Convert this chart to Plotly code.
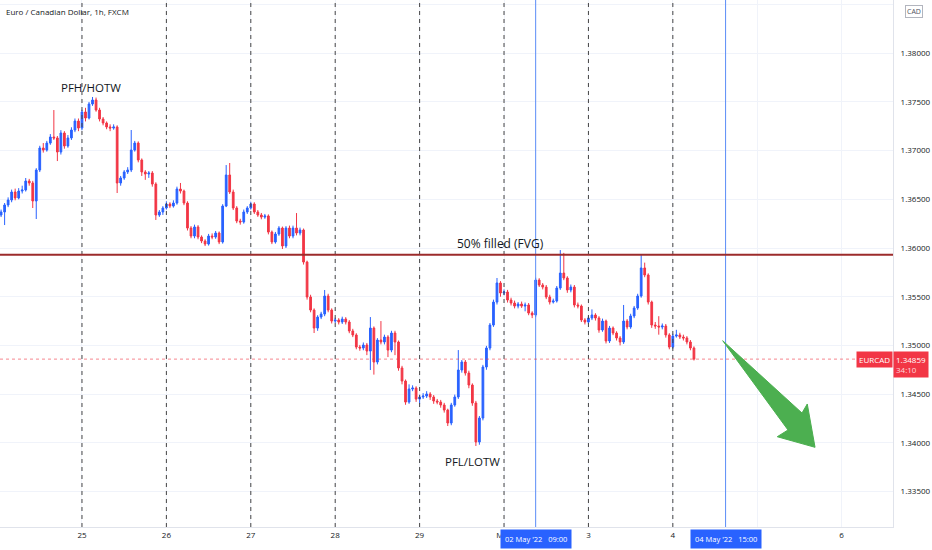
import plotly.graph_objects as go

# EURCAD 1h candles, index 0 = 24 Apr 23:00, one bar per hour (weekend removed)
opens = [
    1.36339, 1.36370, 1.36442, 1.36493, 1.36575, 1.36514, 1.36585, 1.36596, 1.36688, 1.36668, 1.36483, 1.36801,
    1.37027, 1.37006, 1.37078, 1.37140, 1.37130, 1.36986, 1.37181, 1.37048, 1.37130, 1.37212, 1.37304, 1.37232,
    1.37397, 1.37335, 1.37479, 1.37520, 1.37417, 1.37325, 1.37284, 1.37243, 1.37232, 1.37243, 1.36668, 1.36719,
    1.36781, 1.36801, 1.37006, 1.37078, 1.36904, 1.36781, 1.36760, 1.36770, 1.36657, 1.36339, 1.36370, 1.36411,
    1.36452, 1.36431, 1.36462, 1.36606, 1.36585, 1.36462, 1.36205, 1.36123, 1.36216, 1.36113, 1.36072, 1.36041,
    1.36123, 1.36113, 1.36154, 1.36062, 1.36431, 1.36750, 1.36575, 1.36411, 1.36277, 1.36267, 1.36370, 1.36411,
    1.36452, 1.36370, 1.36339, 1.36318, 1.36329, 1.36164, 1.36062, 1.36144, 1.36205, 1.36021, 1.36205, 1.36123,
    1.36205, 1.36154, 1.36185, 1.35856, 1.35497, 1.35363, 1.35178, 1.35291, 1.35322, 1.35507, 1.35363, 1.35250,
    1.35261, 1.35240, 1.35271, 1.35240, 1.35148, 1.35107, 1.34983, 1.34973, 1.35004, 1.34942, 1.35178, 1.34829,
    1.35055, 1.35035, 1.35086, 1.34952, 1.35127, 1.35035, 1.34768, 1.34634, 1.34418, 1.34552, 1.34562, 1.34449,
    1.34470, 1.34480, 1.34501, 1.34470, 1.34429, 1.34418, 1.34388, 1.34336, 1.34203, 1.34388, 1.34470, 1.34747,
    1.34829, 1.34716, 1.34593, 1.34408, 1.34008, 1.34254, 1.34778, 1.34973, 1.35209, 1.35445, 1.35641, 1.35538,
    1.35548, 1.35466, 1.35435, 1.35404, 1.35425, 1.35404, 1.35415, 1.35332, 1.35312, 1.35671, 1.35620, 1.35599,
    1.35497, 1.35445, 1.35456, 1.35589, 1.35743, 1.35692, 1.35569, 1.35599, 1.35415, 1.35404, 1.35261, 1.35240,
    1.35281, 1.35312, 1.35281, 1.35158, 1.35250, 1.35045, 1.35178, 1.35127, 1.35076, 1.35035, 1.35250, 1.35189,
    1.35302, 1.35384, 1.35507, 1.35795, 1.35723, 1.35445, 1.35209, 1.35199, 1.35189, 1.35199, 1.35107, 1.34983,
    1.35096, 1.35107, 1.35086, 1.35076, 1.35035, 1.34973,
]
highs = [
    1.36395, 1.36462, 1.36520, 1.36600, 1.36610, 1.36615, 1.36640, 1.36719, 1.36710, 1.36690, 1.36820, 1.37050,
    1.37078, 1.37100, 1.37170, 1.37417, 1.37150, 1.37210, 1.37200, 1.37160, 1.37240, 1.37330, 1.37330, 1.37420,
    1.37440, 1.37500, 1.37551, 1.37545, 1.37440, 1.37345, 1.37300, 1.37270, 1.37270, 1.37260, 1.36740, 1.36800,
    1.36830, 1.37212, 1.37100, 1.37095, 1.36920, 1.36800, 1.36790, 1.36790, 1.36675, 1.36390, 1.36430, 1.36480,
    1.36470, 1.36490, 1.36630, 1.36668, 1.36600, 1.36480, 1.36225, 1.36240, 1.36235, 1.36130, 1.36090, 1.36145,
    1.36150, 1.36175, 1.36170, 1.36450, 1.36852, 1.36873, 1.36600, 1.36430, 1.36300, 1.36395, 1.36430, 1.36475,
    1.36470, 1.36390, 1.36360, 1.36350, 1.36345, 1.36180, 1.36165, 1.36225, 1.36220, 1.36225, 1.36230, 1.36230,
    1.36359, 1.36210, 1.36200, 1.35870, 1.35520, 1.35380, 1.35310, 1.35345, 1.35569, 1.35530, 1.35380, 1.35285,
    1.35280, 1.35295, 1.35290, 1.35260, 1.35170, 1.35125, 1.35005, 1.35030, 1.35025, 1.35291, 1.35195, 1.35075,
    1.35250, 1.35110, 1.35105, 1.35150, 1.35150, 1.35050, 1.34790, 1.34650, 1.34600, 1.34590, 1.34580, 1.34495,
    1.34510, 1.34530, 1.34520, 1.34490, 1.34450, 1.34440, 1.34410, 1.34350, 1.34410, 1.34495, 1.34952, 1.34850,
    1.34850, 1.34740, 1.34610, 1.34430, 1.34275, 1.34800, 1.34995, 1.35230, 1.35470, 1.35692, 1.35660, 1.35575,
    1.35570, 1.35490, 1.35460, 1.35445, 1.35450, 1.35440, 1.35435, 1.35350, 1.35695, 1.35690, 1.35640, 1.35620,
    1.35520, 1.35480, 1.35610, 1.35979, 1.35950, 1.35710, 1.35625, 1.35620, 1.35440, 1.35420, 1.35280, 1.35305,
    1.35370, 1.35330, 1.35300, 1.35275, 1.35265, 1.35200, 1.35195, 1.35145, 1.35095, 1.35415, 1.35270, 1.35325,
    1.35405, 1.35530, 1.35928, 1.35850, 1.35740, 1.35460, 1.35240, 1.35300, 1.35225, 1.35220, 1.35125, 1.35120,
    1.35160, 1.35130, 1.35110, 1.35095, 1.35055, 1.34990,
]
lows = [
    1.36318, 1.36236, 1.36420, 1.36470, 1.36490, 1.36500, 1.36560, 1.36580, 1.36640, 1.36411, 1.36298, 1.36780,
    1.36980, 1.36990, 1.37060, 1.37110, 1.36893, 1.36960, 1.37020, 1.37030, 1.37110, 1.37190, 1.37200, 1.37210,
    1.37300, 1.37320, 1.37460, 1.37400, 1.37300, 1.37260, 1.37220, 1.37200, 1.37215, 1.36565, 1.36640, 1.36700,
    1.36760, 1.36780, 1.36990, 1.36880, 1.36740, 1.36700, 1.36720, 1.36630, 1.36288, 1.36320, 1.36340, 1.36395,
    1.36410, 1.36415, 1.36445, 1.36560, 1.36440, 1.36180, 1.36100, 1.36100, 1.36090, 1.36050, 1.36020, 1.36025,
    1.36090, 1.36095, 1.36040, 1.36045, 1.36420, 1.36555, 1.36390, 1.36255, 1.36240, 1.36250, 1.36350, 1.36395,
    1.36350, 1.36320, 1.36295, 1.36300, 1.36140, 1.36040, 1.36045, 1.36125, 1.35990, 1.36000, 1.36100, 1.36100,
    1.36130, 1.36130, 1.35830, 1.35470, 1.35340, 1.35127, 1.35150, 1.35270, 1.35300, 1.35340, 1.35225, 1.35230,
    1.35215, 1.35220, 1.35215, 1.35125, 1.35085, 1.34960, 1.34945, 1.34950, 1.34900, 1.34747, 1.34700, 1.34805,
    1.35010, 1.35010, 1.34880, 1.34930, 1.34900, 1.34740, 1.34600, 1.34390, 1.34400, 1.34530, 1.34420, 1.34400,
    1.34450, 1.34460, 1.34440, 1.34400, 1.34395, 1.34360, 1.34310, 1.34172, 1.34180, 1.34370, 1.34450, 1.34720,
    1.34690, 1.34560, 1.34380, 1.33967, 1.33980, 1.34230, 1.34750, 1.34950, 1.35190, 1.35420, 1.35500, 1.35515,
    1.35440, 1.35410, 1.35380, 1.35380, 1.35385, 1.35350, 1.35310, 1.35280, 1.35290, 1.35600, 1.35575, 1.35475,
    1.35420, 1.35430, 1.35440, 1.35570, 1.35670, 1.35540, 1.35545, 1.35390, 1.35380, 1.35240, 1.35215, 1.35220,
    1.35260, 1.35255, 1.35130, 1.35140, 1.35020, 1.35025, 1.35105, 1.35050, 1.35000, 1.35015, 1.35165, 1.35170,
    1.35280, 1.35365, 1.35490, 1.35700, 1.35420, 1.35180, 1.35170, 1.35110, 1.35165, 1.35080, 1.34960, 1.34965,
    1.35080, 1.35065, 1.35050, 1.35010, 1.34950, 1.34845,
]
closes = [
    1.36370, 1.36442, 1.36493, 1.36575, 1.36514, 1.36585, 1.36596, 1.36688, 1.36668, 1.36483, 1.36801, 1.37027,
    1.37006, 1.37078, 1.37140, 1.37130, 1.36986, 1.37181, 1.37048, 1.37130, 1.37212, 1.37304, 1.37232, 1.37397,
    1.37335, 1.37479, 1.37520, 1.37417, 1.37325, 1.37284, 1.37243, 1.37232, 1.37243, 1.36668, 1.36719, 1.36781,
    1.36801, 1.37006, 1.37078, 1.36904, 1.36781, 1.36760, 1.36770, 1.36657, 1.36339, 1.36370, 1.36411, 1.36452,
    1.36431, 1.36462, 1.36606, 1.36585, 1.36462, 1.36205, 1.36123, 1.36216, 1.36113, 1.36072, 1.36041, 1.36123,
    1.36113, 1.36154, 1.36062, 1.36431, 1.36750, 1.36575, 1.36411, 1.36277, 1.36267, 1.36370, 1.36411, 1.36452,
    1.36370, 1.36339, 1.36318, 1.36329, 1.36164, 1.36062, 1.36144, 1.36205, 1.36021, 1.36205, 1.36123, 1.36205,
    1.36154, 1.36185, 1.35856, 1.35497, 1.35363, 1.35178, 1.35291, 1.35322, 1.35507, 1.35363, 1.35250, 1.35261,
    1.35240, 1.35271, 1.35240, 1.35148, 1.35107, 1.34983, 1.34973, 1.35004, 1.34942, 1.35178, 1.34829, 1.35055,
    1.35035, 1.35086, 1.34952, 1.35127, 1.35035, 1.34768, 1.34634, 1.34418, 1.34552, 1.34562, 1.34449, 1.34470,
    1.34480, 1.34501, 1.34470, 1.34429, 1.34418, 1.34388, 1.34336, 1.34203, 1.34388, 1.34470, 1.34747, 1.34829,
    1.34716, 1.34593, 1.34408, 1.34008, 1.34254, 1.34778, 1.34973, 1.35209, 1.35445, 1.35641, 1.35538, 1.35548,
    1.35466, 1.35435, 1.35404, 1.35425, 1.35404, 1.35415, 1.35332, 1.35312, 1.35671, 1.35620, 1.35599, 1.35497,
    1.35445, 1.35456, 1.35589, 1.35743, 1.35692, 1.35569, 1.35599, 1.35415, 1.35404, 1.35261, 1.35240, 1.35281,
    1.35312, 1.35281, 1.35158, 1.35250, 1.35045, 1.35178, 1.35127, 1.35076, 1.35035, 1.35250, 1.35189, 1.35302,
    1.35384, 1.35507, 1.35795, 1.35723, 1.35445, 1.35209, 1.35199, 1.35189, 1.35199, 1.35107, 1.34983, 1.35096,
    1.35107, 1.35086, 1.35076, 1.35035, 1.34973, 1.34859,
]

# day boundaries (bar index of 00:00) and their labels; "5" sits under the marker box
day_ticks = [23, 47, 71, 95, 119, 143, 167, 191, 215, 239]
day_labels = ["25", "26", "27", "28", "29", "May", "3", "4", "", "6"]
price_ticks = [1.335, 1.340, 1.345, 1.350, 1.355, 1.360, 1.365, 1.370, 1.375, 1.380, 1.385]

fvg_level = 1.35932
last_price = 1.34859
countdown = "34:10"
marker_bars = [152, 206]          # 02 May 09:00, 04 May 15:00
marker_labels = ["02 May '22   09:00", "04 May '22   15:00"]

BLUE = "#2962FF"
RED = "#F23645"
TEXT = "#131722"
FONT = "Open Sans"

bars = list(range(len(closes)))

fig = go.Figure(go.Candlestick(
    x=bars, open=opens, high=highs, low=lows, close=closes,
    increasing=dict(line=dict(color=BLUE, width=1), fillcolor=BLUE),
    decreasing=dict(line=dict(color=RED, width=1), fillcolor=RED),
    whiskerwidth=0,
    hoverinfo="skip",
    showlegend=False,
))

shapes = []
# dashed session separators
for d in day_ticks[:8]:
    shapes.append(dict(type="line", xref="x", yref="paper", x0=d, x1=d, y0=0, y1=1,
                       line=dict(color="#444444", width=1, dash="4px,4px")))
# blue vertical markers
for m in marker_bars:
    shapes.append(dict(type="line", xref="x", yref="paper", x0=m, x1=m, y0=0, y1=1,
                       line=dict(color="#5b8cf7", width=1)))
# 50% fvg line
shapes.append(dict(type="line", xref="paper", yref="y", x0=0, x1=1, y0=fvg_level, y1=fvg_level,
                   line=dict(color="#9C2B2B", width=2)))
# last price dotted line
shapes.append(dict(type="line", xref="paper", yref="y", x0=0, x1=1, y0=last_price, y1=last_price,
                   line=dict(color=RED, width=1, dash="dot"), opacity=0.6))
# green arrow (drawing)
shapes.append(dict(type="path", xref="paper", yref="paper",
                   path="M 0.8093 0.3535 L 0.8981 0.2163 L 0.9040 0.2334 L 0.9127 0.1512 "
                        "L 0.8704 0.1713 L 0.8824 0.1841 Z",
                   fillcolor="#4CAF50", line=dict(color="#4CAF50", width=1)))

annotations = [
    dict(text="Euro / Canadian Dollar, 1h, FXCM", xref="paper", yref="paper", x=0.004, y=0.979,
         xanchor="left", yanchor="middle", showarrow=False, font=dict(size=8, color=TEXT, family=FONT)),
    dict(text="50% filled (FVG)", x=142, y=fvg_level, xref="x", yref="y", yanchor="bottom",
         yshift=1, showarrow=False, font=dict(size=12, color=TEXT, family=FONT)),
    dict(text="PFH/HOTW", x=25.5, y=max(highs), xref="x", yref="y", yanchor="bottom",
         yshift=0, showarrow=False, font=dict(size=11.5, color=TEXT, family=FONT)),
    dict(text="PFL/LOTW", x=134, y=min(lows), xref="x", yref="y", yanchor="top",
         yshift=-6, showarrow=False, font=dict(size=11.5, color=TEXT, family=FONT)),
    dict(text="EURCAD", x=1, y=last_price, xref="paper", yref="y", xanchor="right", yanchor="middle",
         showarrow=False, bgcolor=RED, borderpad=2,
         font=dict(size=8, color="white", family=FONT)),
    dict(text=f"{last_price:.5f}<br><span style='color:#ffd6da'>{countdown}</span>",
         x=1, y=last_price, xref="paper", yref="y", xanchor="left", yanchor="top", yshift=8,
         align="left", showarrow=False, bgcolor=RED, borderpad=2,
         font=dict(size=8, color="white", family=FONT)),
    dict(text="CAD", x=1.0235, y=0.979, xref="paper", yref="paper", xanchor="center", yanchor="middle",
         showarrow=False, bgcolor="white", bordercolor="#b2b5be", borderwidth=1, borderpad=1,
         font=dict(size=7, color="#50535e", family=FONT)),
]
for m, lab in zip(marker_bars, marker_labels):
    annotations.append(dict(text=lab, x=m, y=-0.023, xref="x", yref="paper", xanchor="center",
                            yanchor="middle", showarrow=False, bgcolor=BLUE, borderpad=4,
                            font=dict(size=7.5, color="white", family=FONT)))

fig.update_layout(
    width=932, height=550,
    margin=dict(l=0, r=39, t=0, b=23),
    paper_bgcolor="white", plot_bgcolor="white",
    shapes=shapes, annotations=annotations,
    showlegend=False,
    xaxis=dict(range=[-0.31, 253.6], tickvals=day_ticks, ticktext=day_labels,
               rangeslider=dict(visible=False), showgrid=True, gridcolor="#f0f3fa",
               showline=True, linecolor="#e0e3eb", ticks="", zeroline=False,
               tickfont=dict(size=8, color=TEXT, family=FONT)),
    yaxis=dict(range=[1.33135, 1.38547], side="right", tickvals=price_ticks, tickformat=".5f",
               showgrid=True, gridcolor="#f0f3fa", showline=True, linecolor="#e0e3eb",
               ticks="", zeroline=False, automargin=False, ticklabelstandoff=5,
               tickfont=dict(size=8, color=TEXT, family=FONT)),
)

# page body has a default 8px margin; drop it so the chart fills the window
fig.write_html("out.html", config={"displayModeBar": False},
               post_script="document.body.style.margin='0px';")
